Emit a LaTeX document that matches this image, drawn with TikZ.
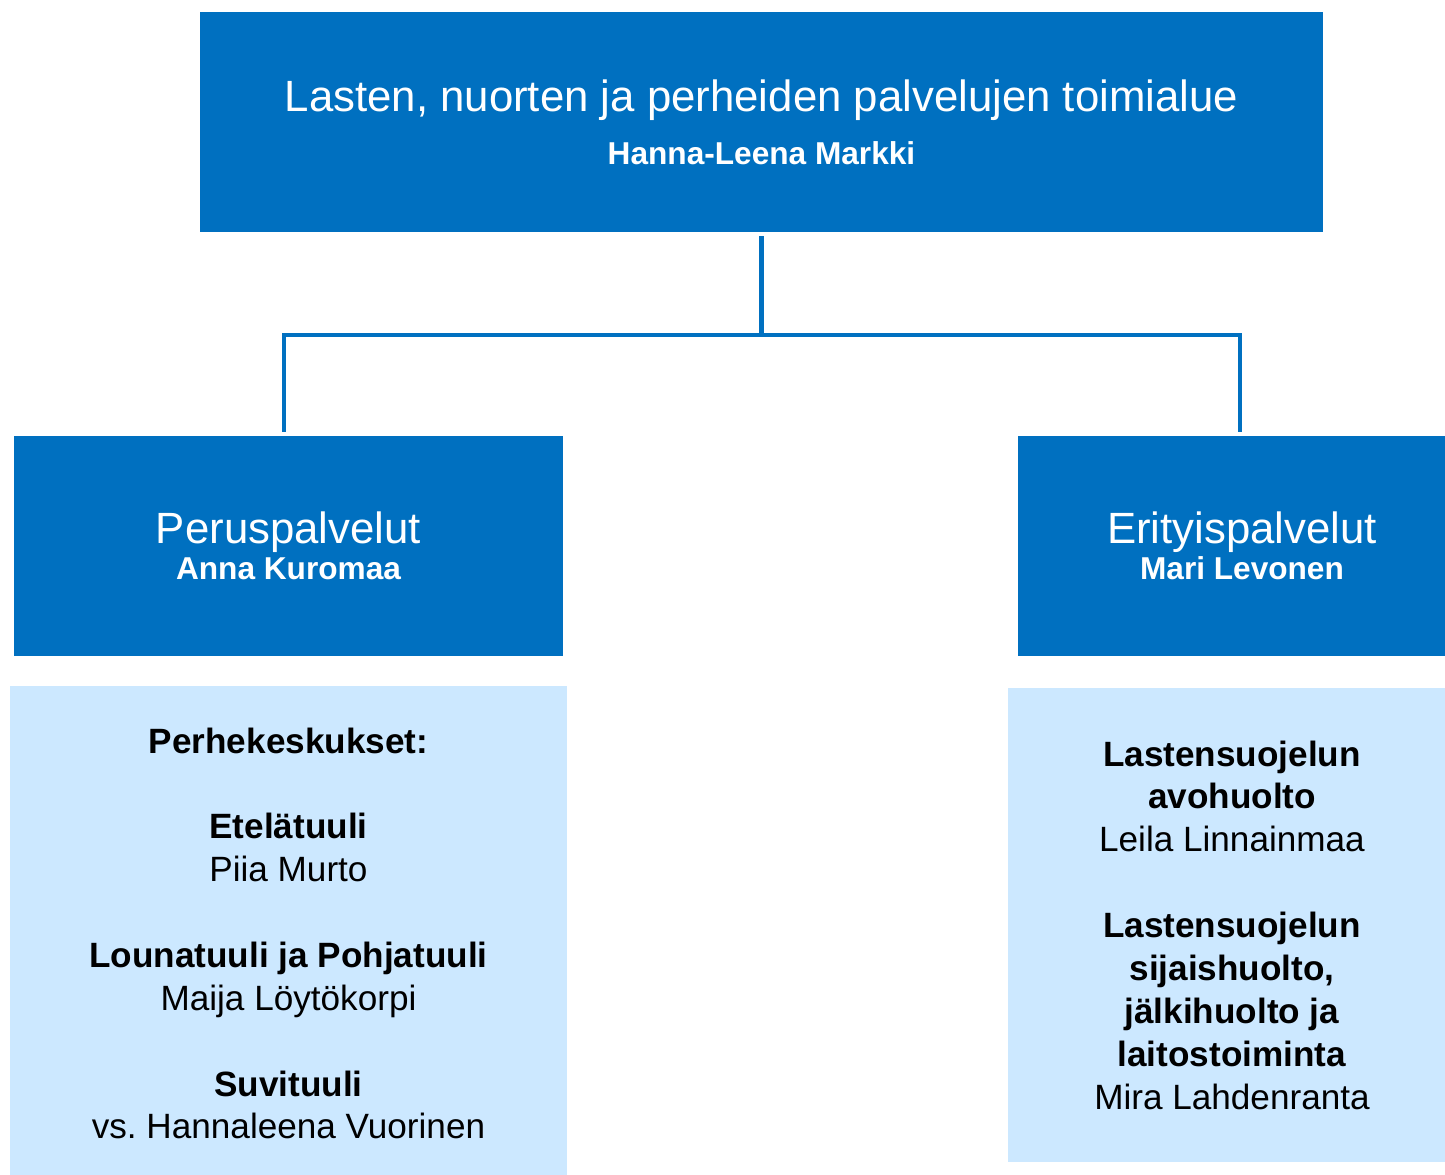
\documentclass[tikz,border=0pt]{standalone}
\usepackage{fontspec}
\setmainfont{Liberation Sans}
\usepackage{xcolor}
\usetikzlibrary{positioning}
\definecolor{tummasin}{RGB}{0,112,192}
\definecolor{vaaleasin}{RGB}{204,232,255}

\begin{document}
\begin{tikzpicture}[x=0.02cm,y=-0.02cm,
    paabox/.style={fill=tummasin,text=white,inner sep=0pt,align=center},
    alabox/.style={fill=vaaleasin,text=black,inner sep=0pt,align=center,
      font=\fontsize{20}{24.4}\selectfont},
    viiva/.style={draw=tummasin,line width=2.3pt}]
		\useasboundingbox (0,0) rectangle (1445,1175);
		% ylin taso
		\node[paabox,minimum width=22.46cm,minimum height=4.4cm,
		  font=\fontsize{24.9}{30}\selectfont] (toimiala) at (761.5,122)
		  {Lasten, nuorten ja perheiden palvelujen toimialue\\
		   {\fontsize{18}{30}\selectfont\bfseries Hanna-Leena Markki}};
		% palvelualueet
		\node[paabox,minimum width=10.98cm,minimum height=4.4cm,
		  font=\fontsize{24.9}{20.5}\selectfont] (perus) at (288.5,546)
		  {Peruspalvelut\\{\fontsize{18}{20.5}\selectfont\bfseries Anna Kuromaa}};
		\node[paabox,minimum width=8.96cm,minimum height=4.4cm,
		  font=\fontsize{24.9}{20.5}\selectfont] (erity) at (1242,546)
		  {Erityispalvelut\\{\fontsize{18}{20.5}\selectfont\bfseries Mari Levonen}};
%		
		\node[alabox,minimum width=11.14cm,minimum height=9.9cm] (perhe) at (288.5,933.5)
		  {\textbf{Perhekeskukset:}\\[24.4pt]
		   \textbf{Etelätuuli}\\ Piia Murto\\[24.4pt]
		   \textbf{Lounatuuli ja Pohjatuuli}\\ Maija Löytökorpi\\[24.4pt]
		   \textbf{Suvituuli}\\ vs.\ Hannaleena Vuorinen};
		\node[alabox,minimum width=8.96cm,minimum height=9.48cm] (lasu) at (1232,925)
		  {\textbf{Lastensuojelun}\\ \textbf{avohuolto}\\ Leila Linnainmaa\\[24.4pt]
		   \textbf{Lastensuojelun}\\ \textbf{sijaishuolto,}\\ \textbf{jälkihuolto ja}\\
		   \textbf{laitostoiminta}\\ Mira Lahdenranta};
		% yhdysviivat
		\coordinate (haara) at (761.5,335);
		\draw[viiva,shorten <=2.3pt] (toimiala.south) -- (haara);
		\draw[viiva,shorten >=2.3pt] (haara) -| ([xshift=-0.09cm]perus.north);
		\draw[viiva,shorten >=2.3pt] (haara) -| ([xshift=-0.04cm]erity.north);
\end{tikzpicture}
\end{document}
